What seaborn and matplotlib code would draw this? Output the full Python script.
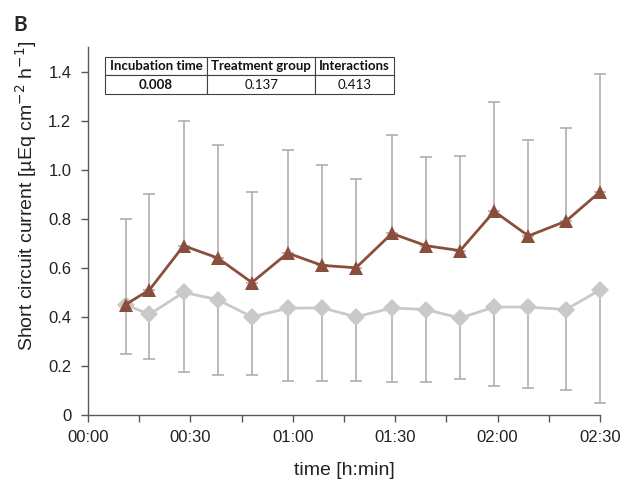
import pandas as pd
import matplotlib
matplotlib.use("Agg")
import matplotlib.pyplot as plt
import seaborn as sns
from matplotlib.ticker import MultipleLocator

# time points (minutes after start)
minutes = [11, 18, 28, 38, 48, 58.5, 68.5, 78.5, 89, 99, 109, 119, 129, 140, 150]

# treatment group (brown triangles), upper SD only
treat_mean = [0.45, 0.51, 0.69, 0.64, 0.54, 0.66, 0.61, 0.60, 0.74, 0.69, 0.67, 0.83, 0.73, 0.79, 0.91]
treat_sd = [0.35, 0.39, 0.51, 0.46, 0.37, 0.42, 0.41, 0.36, 0.40, 0.36, 0.385, 0.445, 0.39, 0.38, 0.48]

# control group (grey diamonds), lower SD only
ctrl_mean = [0.45, 0.41, 0.50, 0.47, 0.40, 0.435, 0.437, 0.40, 0.436, 0.43, 0.395, 0.44, 0.44, 0.43, 0.51]
ctrl_sd = [0.20, 0.18, 0.325, 0.305, 0.235, 0.295, 0.30, 0.26, 0.30, 0.295, 0.25, 0.32, 0.33, 0.33, 0.46]

tick_minutes = [0, 30, 60, 90, 120, 150]
tick_labels = ["00:00", "00:30", "01:00", "01:30", "02:00", "02:30"]

table_header = ["Incubation time", "Treatment group", "Interactions"]
table_values = ["0.008", "0.137", "0.413"]

BROWN = "#8C4E3C"
GREY = "#C9C9C9"
ERR = "#A8A8A8"
AXCOL = "#595959"

sns.set_theme(style="ticks")
plt.rcParams["font.family"] = ["Liberation Sans", "DejaVu Sans"]

df_treat = pd.DataFrame({"minute": minutes, "value": treat_mean})
df_ctrl = pd.DataFrame({"minute": minutes, "value": ctrl_mean})

fig, ax = plt.subplots(figsize=(6.31, 4.82), dpi=100)
fig.patch.set_facecolor("white")
fig.subplots_adjust(left=0.1395, right=0.951, bottom=0.139, top=0.9025)

# error bars behind the lines
zeros = [0] * len(minutes)
ax.errorbar(minutes, treat_mean, yerr=[zeros, treat_sd], fmt="none", ecolor=ERR,
            elinewidth=1.1, capsize=4.5, capthick=1.1, zorder=1, clip_on=False)
ax.errorbar(minutes, ctrl_mean, yerr=[ctrl_sd, zeros], fmt="none", ecolor=ERR,
            elinewidth=1.1, capsize=4.5, capthick=1.1, zorder=1, clip_on=False)

sns.lineplot(data=df_ctrl, x="minute", y="value", ax=ax, color=GREY, linewidth=2,
             marker="D", markersize=9, markeredgewidth=0, zorder=2, clip_on=False)
sns.lineplot(data=df_treat, x="minute", y="value", ax=ax, color=BROWN, linewidth=2,
             marker="^", markersize=10.5, markeredgewidth=0, zorder=3, clip_on=False)

ax.set_xlim(0, 150)
ax.set_ylim(0, 1.5)
ax.set_xticks(tick_minutes)
ax.set_xticklabels(tick_labels)
ax.xaxis.set_minor_locator(MultipleLocator(15))
ax.set_yticks([0, 0.2, 0.4, 0.6, 0.8, 1.0, 1.2, 1.4])
ax.set_yticklabels(["0", "0.2", "0.4", "0.6", "0.8", "1.0", "1.2", "1.4"])

sns.despine(ax=ax)
for side in ["left", "bottom"]:
    ax.spines[side].set_color(AXCOL)
    ax.spines[side].set_linewidth(1)
ax.tick_params(axis="both", which="both", direction="out", color=AXCOL, width=1,
               labelsize=12, labelcolor="#222222")
ax.tick_params(axis="x", which="major", length=5, pad=6)
ax.tick_params(axis="x", which="minor", length=5)
ax.tick_params(axis="y", length=5, pad=7)

ax.set_xlabel("time [h:min]", fontsize=14, labelpad=12, color="#222222")
ax.set_ylabel("Short circuit current [µEq cm$^{-2}$ h$^{-1}$]", fontsize=14, color="#222222")
ax.yaxis.set_label_coords(-0.096, 0.595)

# statistics table
tbl = ax.table(cellText=[table_values], colLabels=table_header,
               colWidths=[0.353, 0.374, 0.273], cellLoc="center",
               bbox=[0.0332, 0.8723, 0.5645, 0.1005])
tbl.auto_set_font_size(False)
tbl.set_fontsize(9.5)
for (r, c), cell in tbl.get_celld().items():
    cell.set_edgecolor("#404040")
    cell.set_linewidth(0.8)
    cell.set_facecolor("white")
    bold = r == 0 or (r == 1 and c == 0)
    cell.set_text_props(fontfamily=["Lato", "DejaVu Sans"],
                        fontweight="bold" if bold else "normal", color="#111111")
tbl.set_zorder(5)

fig.text(0.021, 0.948, "B", fontsize=15, fontweight="bold", family=["Lato", "DejaVu Sans"],
         ha="left", va="center")

plt.savefig("out.png", dpi=100, facecolor="white")
